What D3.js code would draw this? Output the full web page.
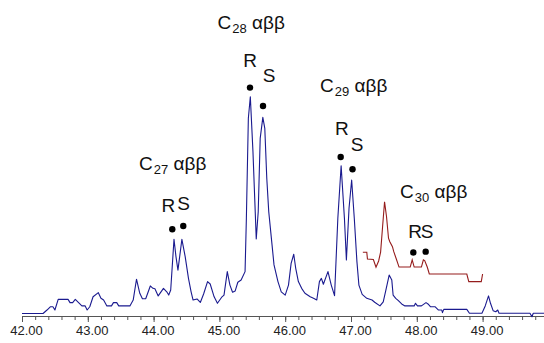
<!DOCTYPE html>
<html>
<head>
<meta charset="utf-8">
<script src="https://cdn.jsdelivr.net/npm/d3@7"></script>
<style>
  body { margin: 0; background: #fff; }
  svg { display: block; font-family: "Liberation Sans", Arial, sans-serif; }
</style>
</head>
<body>
<div id="chart"></div>
<script>
// retention time (min) and relative intensity of the m/z 217 trace (blue)
const blueTime = [42.00, 42.32, 42.38, 42.43, 42.47, 42.50, 42.55, 42.70, 42.73, 42.77, 42.81, 42.86, 42.91, 42.96, 42.99,
  43.03, 43.08, 43.16, 43.20, 43.24, 43.29, 43.36, 43.39, 43.44, 43.47, 43.64, 43.69, 43.74, 43.79, 43.83, 43.88, 43.95, 43.99,
  44.02, 44.07, 44.15, 44.20, 44.23, 44.26, 44.31, 44.34, 44.37, 44.39, 44.43, 44.48, 44.53, 44.57, 44.60, 44.66, 44.71, 44.76,
  44.82, 44.86, 44.92, 44.97, 45.04, 45.07, 45.12, 45.16, 45.20, 45.24, 45.28, 45.33, 45.39, 45.41, 45.44, 45.47, 45.51, 45.56,
  45.59, 45.62, 45.66, 45.69, 45.72, 45.75, 45.80, 45.83, 45.89, 45.94, 46.00, 46.05, 46.09, 46.13, 46.16, 46.20, 46.25, 46.30,
  46.38, 46.43, 46.48, 46.52, 46.55, 46.58, 46.65, 46.70, 46.75, 46.80, 46.85, 46.90, 46.93, 46.97, 47.01, 47.05, 47.09, 47.12,
  47.17, 47.24, 47.32, 47.36, 47.44, 47.49, 47.53, 47.58, 47.62, 47.64, 47.68, 47.72, 47.77, 47.82, 47.96, 47.98, 48.01, 48.07,
  48.14, 48.17, 48.21, 48.28, 48.33, 48.38, 48.39, 48.41, 48.76, 48.80, 48.99, 49.04, 49.09, 49.12, 49.16, 49.20, 49.23, 49.25,
  49.72, 49.75, 49.77, 49.95];
const blueValue = [0, 0, 1.6, 3.1, 3.1, 1.6, 6.5, 6.5, 5.0, 5.0, 6.5, 5.0, 3.5, 3.5, 1.6,
  3.1, 7.7, 9.6, 7.0, 6.2, 3.5, 3.5, 5.0, 5.0, 3.5, 3.5, 6.2, 15.8, 9.3, 6.8, 6.8, 12.7, 11.6,
  11.4, 8.1, 11.6, 10.0, 8.5, 10.8, 34.2, 26.2, 20.0, 24.7, 34.2, 26.2, 16.2, 10.0, 6.2, 6.7, 5.1, 9.0,
  14.7, 13.6, 7.7, 4.7, 7.7, 8.5, 19.3, 13.1, 9.8, 10.4, 14.4, 15.4, 19.3, 43.9, 90.0, 99.9, 74.6, 34.3,
  46.9, 80.7, 90.4, 85.3, 62.3, 46.9, 31.6, 22.4, 14.7, 10.0, 8.5, 13.1, 23.1, 27.3, 20.8, 14.7, 11.6, 9.3,
  7.7, 7.0, 6.2, 14.7, 16.2, 13.5, 19.3, 13.1, 8.2, 43.9, 68.1, 43.9, 24.7, 48.5, 61.5, 43.9, 23.9, 13.1,
  8.8, 7.0, 6.2, 5.2, 3.5, 5.4, 10.8, 17.7, 15.4, 8.5, 7.0, 5.9, 4.4, 3.5, 3.5, 4.7, 3.5, 3.5,
  5.0, 4.4, 3.1, 3.1, 1.6, 1.6, 0.4, 1.9, 1.9, 0.1, 0.1, 3.5, 8.1, 4.7, 1.3, 0.8, 1.6, 0.1,
  0.1, -1.5, 0.1, 0.1];

// C30 trace (red), offset upward in the original figure
const redTime = [47.18, 47.24, 47.25, 47.34, 47.38, 47.42, 47.45, 47.48, 47.51, 47.54, 47.57, 47.59, 47.63, 47.65,
  47.69, 47.73, 47.90, 47.93, 47.96, 48.07, 48.10, 48.12, 48.16, 48.19, 48.76, 48.79, 48.98, 49.00];
const redValue = [28.2, 28.2, 25.1, 24.9, 21.3, 24.2, 28.3, 40.0, 51.5, 44.6, 34.7, 33.1, 30.8, 28.5,
  25.0, 21.4, 21.4, 24.7, 21.4, 21.4, 24.7, 24.4, 21.3, 18.2, 18.2, 14.7, 14.7, 18.2];

// compound labels: name, subscript carbon number, anchor (time, intensity)
const groupName = ["C", "C", "C", "C"];
const groupSub = ["27", "28", "29", "30"];
const groupTime = [43.778, 44.971, 46.529, 47.745];
const groupValue = [66.1, 130.9, 102.1, 53.0];

// R / S epimer labels and marker dots
const epimerText = ["R", "S", "R", "S", "R", "S", "R", "S"];
const epimerTextTime = [44.226, 44.454, 45.465, 45.754, 46.863, 47.091, 47.973, 48.155];
const epimerTextValue = [47.0, 47.9, 113.6, 106.7, 82.3, 74.9, 34.8, 34.8];
const dotTime = [44.284, 44.451, 45.465, 45.663, 46.843, 47.023, 47.947, 48.135];
const dotValue = [38.8, 40.3, 104.1, 95.6, 72.1, 66.5, 28.1, 28.5];

const majorTicks = [42, 43, 44, 45, 46, 47, 48, 49];

const width = 544, height = 343;

const svg = d3.select("#chart").append("svg")
    .attr("width", width)
    .attr("height", height);

const x = d3.scaleLinear().domain([42, 50]).range([22, 548.4]);
const y = d3.scaleLinear().domain([0, 100]).range([313.5, 96.5]);

// axis
const minorTicks = d3.range(0, 41).map(i => 42 + i * 0.2);
const axisY = 316;

svg.append("g")
    .attr("transform", `translate(0,${axisY})`)
    .call(d3.axisBottom(x).tickValues(minorTicks).tickSize(4).tickSizeOuter(0).tickFormat(""))
    .call(g => g.select(".domain").attr("stroke", "#555"))
    .call(g => g.selectAll(".tick line").attr("stroke", "#555"));

const major = svg.append("g")
    .attr("transform", `translate(0,${axisY})`)
    .call(d3.axisBottom(x).tickValues(majorTicks).tickSize(6).tickSizeOuter(0).tickFormat(d3.format(".2f")));
major.select(".domain").remove();
major.selectAll(".tick line").attr("stroke", "#555");
major.selectAll(".tick text")
    .attr("y", 19)
    .attr("dy", 0)
    .attr("dx", 4)
    .attr("fill", "#222")
    .style("font-size", "13px")
    .style("font-family", "'Liberation Sans', Arial, sans-serif");

// traces
const line = d3.line()
    .x(d => x(d[0]))
    .y(d => y(d[1]));

svg.append("path")
    .datum(d3.zip(blueTime, blueValue))
    .attr("fill", "none")
    .attr("stroke", "#1a1a8f")
    .attr("stroke-width", 1.1)
    .attr("stroke-linejoin", "round")
    .attr("d", line);

svg.append("path")
    .datum(d3.zip(redTime, redValue))
    .attr("fill", "none")
    .attr("stroke", "#951c1c")
    .attr("stroke-width", 1.1)
    .attr("d", line);

// compound group labels, e.g. C27 αββ
groupName.forEach((name, i) => {
    const t = svg.append("text")
        .attr("x", x(groupTime[i]))
        .attr("y", y(groupValue[i]))
        .attr("fill", "#111")
        .style("font-size", "19px");
    t.append("tspan").text(name);
    t.append("tspan").attr("dx", 1).attr("dy", 4).style("font-size", "13px").text(groupSub[i]);
    t.append("tspan").attr("dy", -4).text(" αββ");
});

svg.selectAll("text.epimer")
    .data(epimerText)
    .join("text")
    .attr("class", "epimer")
    .attr("x", (d, i) => x(epimerTextTime[i]))
    .attr("y", (d, i) => y(epimerTextValue[i]))
    .attr("text-anchor", "middle")
    .attr("fill", "#111")
    .style("font-size", "19px")
    .text(d => d);

svg.selectAll("circle.dot")
    .data(dotTime)
    .join("circle")
    .attr("class", "dot")
    .attr("cx", d => x(d))
    .attr("cy", (d, i) => y(dotValue[i]))
    .attr("r", 3.2)
    .attr("fill", "#000");
</script>
</body>
</html>
